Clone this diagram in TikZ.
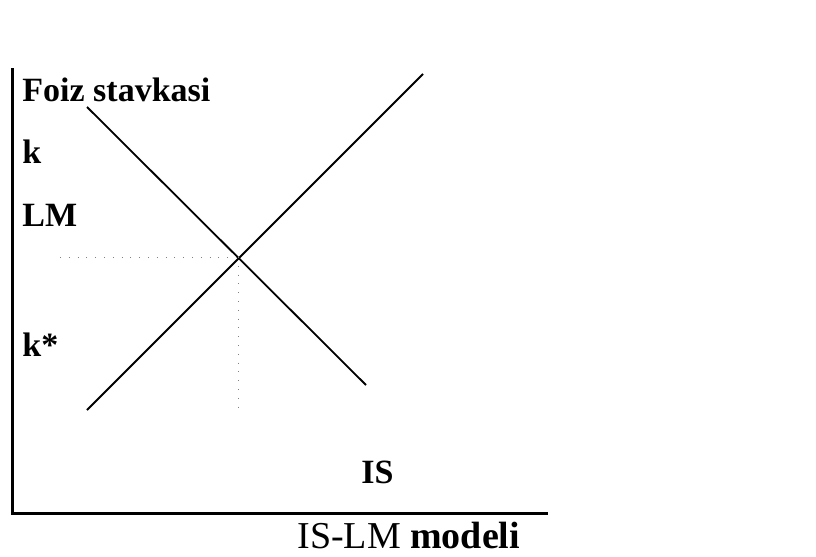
\documentclass[tikz,border=0pt]{standalone}
\usepackage{fontspec}
\setmainfont{Liberation Serif}
\usetikzlibrary{calc}

\tikzset{
  lab/.style={anchor=base west,inner sep=0pt,font=\fontsize{17}{20}\selectfont\bfseries},
  curve/.style={line width=0.9pt},
  axis/.style={line width=1.5pt},
  guide/.style={line width=0.4pt,loosely dotted,gray}
}

\begin{document}
\begin{tikzpicture}[x=0.5pt,y=-0.5pt]
  \useasboundingbox (0,0) rectangle (816,557);
  % axes
  \coordinate (O) at (12,513);
  \coordinate (ytop) at (12,68);
  \coordinate (xend) at (548,513);
  \draw[axis] (ytop) -- (O) -- (xend);
  % IS and LM
  \coordinate (is1) at (87,107);
  \coordinate (is2) at (366,385);
  \coordinate (lm1) at (87,410);
  \coordinate (lm2) at (423,74);
  \draw[curve] (is1) -- (is2);
  \draw[curve] (lm1) -- (lm2);
  \coordinate (E) at (238,257);
  \coordinate (Ey) at (60,257);
  \coordinate (Ex) at (238,407);
  \draw[guide] (Ey) -- (E);
  \draw[guide] (E) -- (Ex);
  % labels
  \node[lab] (foiz) at (22,101) {Foiz stavkasi};
  \node[lab] (k) at (22,163) {k};
  \node[lab] (lm) at (22,227) {LM};
  \node[lab] (kstar) at (22,356) {k*};
  \node[lab] (is) at (361,483) {IS};
  \node[lab,font=\fontsize{19}{22}\selectfont] (title) at (297,548) {IS-LM \textbf{modeli}};
\end{tikzpicture}
\end{document}
